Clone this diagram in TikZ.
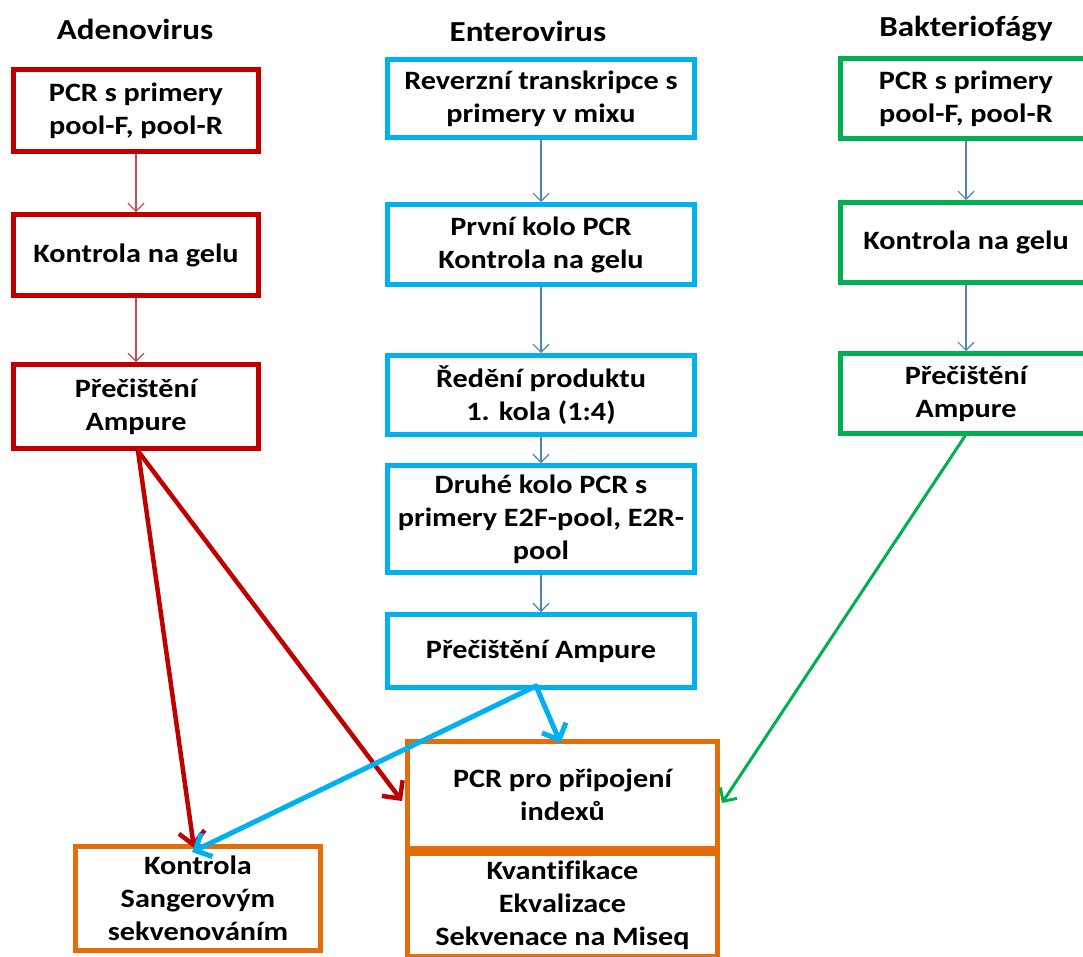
\documentclass[tikz,border=0pt]{standalone}
\usepackage{fontspec}
\setmainfont{Carlito}[FakeStretch=1.14,Ligatures=NoCommon]
\usetikzlibrary{arrows.meta}
\definecolor{cred}{HTML}{C00000}
\definecolor{cthinred}{HTML}{C0504D}
\definecolor{cblue}{HTML}{00B0F0}
\definecolor{cthinblue}{HTML}{4F81BD}
\definecolor{cgreen}{HTML}{00B050}
\definecolor{corange}{HTML}{E46C0A}
\tikzset{
  box/.style={draw, line width=5pt, rectangle, align=center, inner sep=0pt,
    font=\fontsize{26.5}{33}\selectfont\bfseries, text=black},
  redbox/.style={box, draw=cred, minimum width=245pt},
  bluebox/.style={box, draw=cblue, minimum width=307pt},
  greenbox/.style={box, draw=cgreen, minimum width=251pt},
  orangebox/.style={box, draw=corange},
  title/.style={font=\fontsize{29}{33}\selectfont\bfseries, inner sep=0pt},
  thin/.style={line width=1.2pt, -{Straight Barb[length=8pt,width=16pt]}},
  thick/.style={line width=5pt, line cap=round, -{Straight Barb[length=13pt,width=26pt]}},
}
\begin{document}
\begin{tikzpicture}[x=1pt,y=-1pt]
\useasboundingbox (0,0) rectangle (1083,956);
\begin{scope}
\clip (0,0) rectangle (1083,956);
% titles
\node[title] (tA) at (135,29) {Adenovirus};
\node[title] (tE) at (528,31) {Enterovirus};
\node[title] (tB) at (966,29) {Bakteriofágy};
% Adenovirus
\node[redbox, minimum height=82pt] (r1) at (136,110.5) {PCR s primery\\pool-F, pool-R};
\node[redbox, minimum height=81pt] (r2) at (136,255) {Kontrola na gelu};
\node[redbox, minimum height=84pt] (r3) at (136,406.5) {Přečištění\\Ampure};
% Enterovirus
\node[bluebox, minimum height=78pt] (e1) at (541,98.5) {Reverzní transkripce s\\primery v mixu};
\node[bluebox, minimum height=80pt] (e2) at (541,244.5) {První kolo PCR\\Kontrola na gelu};
\node[bluebox, minimum height=79pt] (e3) at (541,395) {Ředění produktu\\1. kola (1:4)};
\node[bluebox, minimum height=107pt] (e4) at (541,519) {Druhé kolo PCR s\\primery E2F-pool, E2R-\\pool};
\node[bluebox, minimum height=73pt] (e5) at (541,651) {Přečištění Ampure};
% Bakteriofagy
\node[greenbox, minimum height=80pt] (g1) at (966,98.5) {PCR s primery\\pool-F, pool-R};
\node[greenbox, minimum height=80pt] (g2) at (966,242.5) {Kontrola na gelu};
\node[greenbox, minimum height=80pt] (g3) at (966,393.5) {Přečištění\\Ampure};
% orange
\node[orangebox, minimum width=245pt, minimum height=104pt] (lo) at (198,898.5) {Kontrola\\Sangerovým\\sekvenováním};
\node[orangebox, minimum width=310pt, minimum height=107pt] (pcr) at (562.5,795) {PCR pro připojení\\indexů};
\node[orangebox, minimum width=310pt, minimum height=103pt, anchor=north] (kv) at (pcr.south) {Kvantifikace\\Ekvalizace\\Sekvenace na Miseq};
% thin arrows
\draw[thin, cthinred] (r1.south) -- (r2.north);
\draw[thin, cthinred] (r2.south) -- (r3.north);
\draw[thin, cthinblue] (e1.south) -- (e2.north);
\draw[thin, cthinblue] (e2.south) -- (e3.north);
\draw[thin, cthinblue] (e3.south) -- (e4.north);
\draw[thin, cthinblue] (e4.south) -- (e5.north);
\draw[thin, cthinblue] (g1.south) -- (g2.north);
\draw[thin, cthinblue] (g2.south) -- (g3.north);
% thick arrows
\coordinate (r3out) at ([xshift=2pt]r3.south);
\coordinate (e5out) at ([xshift=-5pt,yshift=4pt]e5.south);
\coordinate (loin) at ([xshift=-6pt,yshift=-8pt]lo.north);
\coordinate (lored) at ([xshift=-4pt,yshift=-4pt]lo.north);
\draw[thick, cred, line width=4.5pt] (r3out) -- (lored);
\draw[thick, cred, line width=4.5pt] (r3out) -- ([xshift=-3pt,yshift=-6pt]pcr.west);
\draw[thick, cblue] (e5out) -- (loin);
\draw[thick, cblue] (e5out) -- ([xshift=-2pt,yshift=-4pt]pcr.north);
\draw[thick, cgreen, line width=3pt, -{Straight Barb[length=10pt,width=20pt]}] ([xshift=-1pt]g3.south) -- ([xshift=2pt,yshift=-8pt]pcr.east);
\end{scope}
\end{tikzpicture}
\end{document}
